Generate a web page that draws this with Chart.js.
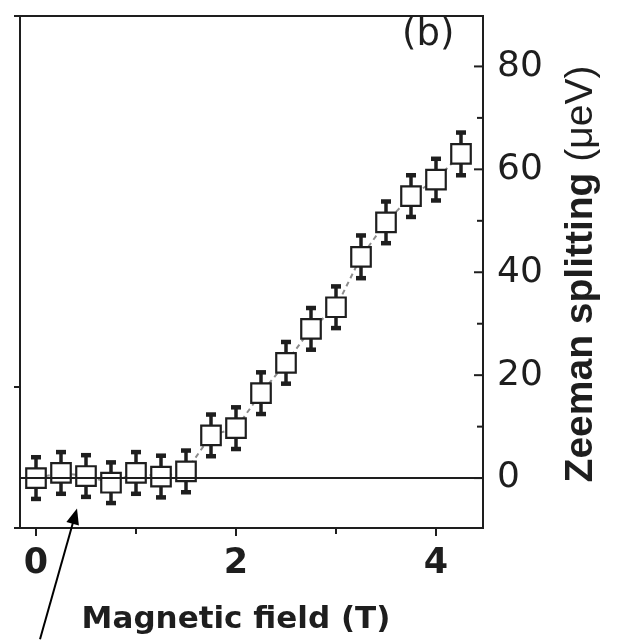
<!DOCTYPE html>
<html>
<head>
<meta charset="utf-8">
<script src="https://cdn.jsdelivr.net/npm/chart.js@4/dist/chart.umd.min.js"></script>
<style>
  html, body { margin: 0; padding: 0; background: #fff; }
  #wrap { width: 619px; height: 641px; }
</style>
</head>
<body>
<div id="wrap"><canvas id="c" width="619" height="641"></canvas></div>
<script>
// Magnetic field (T) at each measurement
const fieldT = [0, 0.25, 0.5, 0.75, 1.0, 1.25, 1.5, 1.75, 2.0, 2.25, 2.5, 2.75, 3.0, 3.25, 3.5, 3.75, 4.0, 4.25];
// Zeeman splitting (µeV)
const splitting = [0.0, 1.0, 0.4, -0.9, 1.0, 0.3, 1.3, 8.3, 9.7, 16.5, 22.4, 29.0, 33.2, 43.0, 49.7, 54.8, 58.0, 63.0];
// Error bar half-widths (µeV)
const splitErr = [4.1, 4.1, 4.1, 4.0, 4.1, 4.1, 4.1, 4.1, 4.1, 4.1, 4.1, 4.1, 4.1, 4.2, 4.1, 4.1, 4.1, 4.2];

// Axis ranges and tick values
const xRange = [-0.16, 4.47];
const yRange = [-9.7, 89.8];
const xMajorTicks = [0, 2, 4];
const xMinorTicks = [1, 3];
const yMajorTicks = [0, 20, 40, 60, 80];
const yMinorTicks = [10, 30, 50, 70];
const leftAxisTicks = [-9.7, 17.7, 89.8];
const zeroLevel = 0;

// Pointer arrow (field, splitting) from tail to tip
const arrowTail = [0.04, -31.3];
const arrowTip = [0.41, -5.9];

const panelLabel = '(b)';
const xTitle = 'Magnetic field (T)';
const yTitleBold = 'Zeeman splitting';
const yTitleUnit = ' (\u03bceV)';

const INK = '#1e1e1e';

const points = fieldT.map((x, i) => ({ x: x, y: splitting[i] }));

// Error bars, frame, axis ticks, zero line, titles and the pointer arrow
const framePlugin = {
  id: 'frame',
  beforeDatasetsDraw(chart) {
    const { ctx, scales } = chart;
    const ds = chart.getDatasetMeta(0);
    ctx.save();
    ctx.strokeStyle = INK;
    ctx.fillStyle = INK;
    ds.data.forEach((el, i) => {
      const px = el.x;
      const yHi = scales.y.getPixelForValue(splitting[i] + splitErr[i]);
      const yLo = scales.y.getPixelForValue(splitting[i] - splitErr[i]);
      ctx.lineWidth = 3.5;
      ctx.beginPath();
      ctx.moveTo(px, yHi);
      ctx.lineTo(px, yLo);
      ctx.stroke();
      ctx.fillRect(px - 5, yHi - 2, 10, 4.5);
      ctx.fillRect(px - 5, yLo - 2.5, 10, 4.5);
    });
    ctx.restore();
  },
  afterDatasetsDraw(chart) {
    const { ctx, chartArea: a, scales } = chart;
    ctx.save();
    ctx.strokeStyle = INK;
    ctx.lineWidth = 2;
    // zero line
    const y0 = scales.y.getPixelForValue(zeroLevel);
    ctx.beginPath();
    ctx.moveTo(a.left, y0);
    ctx.lineTo(a.right, y0);
    ctx.stroke();
    // frame
    ctx.beginPath();
    ctx.rect(a.left, a.top, a.right - a.left, a.bottom - a.top);
    ctx.stroke();
    // left axis ticks (outward)
    leftAxisTicks.forEach(v => {
      const py = scales.y.getPixelForValue(v);
      ctx.beginPath();
      ctx.moveTo(a.left - 6, py);
      ctx.lineTo(a.left, py);
      ctx.stroke();
    });
    // right axis ticks (inward)
    yMajorTicks.forEach(v => {
      const py = scales.y.getPixelForValue(v);
      ctx.beginPath();
      ctx.moveTo(a.right - 9, py);
      ctx.lineTo(a.right, py);
      ctx.stroke();
    });
    yMinorTicks.forEach(v => {
      const py = scales.y.getPixelForValue(v);
      ctx.beginPath();
      ctx.moveTo(a.right - 6, py);
      ctx.lineTo(a.right, py);
      ctx.stroke();
    });
    // bottom axis ticks (outward)
    xMajorTicks.forEach(v => {
      const px = scales.x.getPixelForValue(v);
      ctx.beginPath();
      ctx.moveTo(px, a.bottom);
      ctx.lineTo(px, a.bottom + 8);
      ctx.stroke();
    });
    xMinorTicks.forEach(v => {
      const px = scales.x.getPixelForValue(v);
      ctx.beginPath();
      ctx.moveTo(px, a.bottom);
      ctx.lineTo(px, a.bottom + 6);
      ctx.stroke();
    });
    ctx.restore();
  },
  afterDraw(chart) {
    const { ctx, chartArea: a, scales } = chart;
    ctx.save();
    ctx.fillStyle = INK;
    // panel label
    ctx.font = '37px "DejaVu Sans"';
    ctx.textAlign = 'left';
    ctx.textBaseline = 'alphabetic';
    ctx.fillText(panelLabel, 402, 45);

    // x axis title
    ctx.font = 'bold 31px "DejaVu Sans"';
    ctx.textAlign = 'center';
    ctx.fillText(xTitle, scales.x.getPixelForValue(2), 628);

    // y axis title (rotated, bold name + regular unit)
    ctx.translate(592, (a.top + a.bottom) / 2 + 2);
    ctx.rotate(-Math.PI / 2);
    ctx.textAlign = 'left';
    const fBold = 'bold 39px "Liberation Sans"';
    const fReg = '39px "Liberation Sans"';
    ctx.font = fBold;
    const wB = ctx.measureText(yTitleBold).width;
    ctx.font = fReg;
    const wR = ctx.measureText(yTitleUnit).width;
    const x0 = -(wB + wR) / 2;
    ctx.font = fBold;
    ctx.fillText(yTitleBold, x0, 0);
    ctx.font = fReg;
    ctx.fillText(yTitleUnit, x0 + wB, 0);
    ctx.restore();

    // arrow
    ctx.save();
    const tx = scales.x.getPixelForValue(arrowTail[0]);
    const ty = scales.y.getPixelForValue(arrowTail[1]);
    const hx = scales.x.getPixelForValue(arrowTip[0]);
    const hy = scales.y.getPixelForValue(arrowTip[1]);
    const ang = Math.atan2(hy - ty, hx - tx);
    const headLen = 16, headHalf = 6.5;
    ctx.strokeStyle = '#000';
    ctx.fillStyle = '#000';
    ctx.lineWidth = 2;
    ctx.beginPath();
    ctx.moveTo(tx, ty);
    ctx.lineTo(hx - Math.cos(ang) * headLen * 0.8, hy - Math.sin(ang) * headLen * 0.8);
    ctx.stroke();
    ctx.beginPath();
    ctx.moveTo(hx, hy);
    ctx.lineTo(hx - Math.cos(ang) * headLen + Math.sin(ang) * headHalf,
               hy - Math.sin(ang) * headLen - Math.cos(ang) * headHalf);
    ctx.lineTo(hx - Math.cos(ang) * headLen - Math.sin(ang) * headHalf,
               hy - Math.sin(ang) * headLen + Math.cos(ang) * headHalf);
    ctx.closePath();
    ctx.fill();
    ctx.restore();
  }
};

new Chart(document.getElementById('c'), {
  type: 'line',
  data: {
    datasets: [{
      data: points,
      showLine: true,
      borderColor: '#8c8c8c',
      borderWidth: 2,
      borderDash: [5, 4],
      tension: 0,
      pointStyle: 'rect',
      pointRadius: 13.8,
      pointBorderWidth: 2.2,
      pointBorderColor: INK,
      pointBackgroundColor: '#ffffff',
      clip: false
    }]
  },
  options: {
    responsive: false,
    animation: false,
    devicePixelRatio: 1,
    layout: { padding: { left: 20, top: 6, right: 0, bottom: 0 } },
    plugins: { legend: { display: false }, tooltip: { enabled: false } },
    events: [],
    scales: {
      x: {
        type: 'linear',
        position: 'bottom',
        min: xRange[0],
        max: xRange[1],
        grid: { display: false, drawTicks: false },
        border: { display: false },
        afterBuildTicks: s => { s.ticks = xMajorTicks.map(v => ({ value: v })); },
        afterFit: s => { s.height = 113; s.paddingLeft = 0; s.paddingRight = 0; },
        ticks: {
          padding: 15,
          color: INK,
          font: { family: 'DejaVu Sans', size: 35, weight: 'bold' },
          callback: v => String(v)
        }
      },
      y: {
        type: 'linear',
        position: 'right',
        min: yRange[0],
        max: yRange[1],
        grid: { display: false, drawTicks: false },
        border: { display: false },
        afterBuildTicks: s => { s.ticks = yMajorTicks.map(v => ({ value: v })); },
        afterFit: s => { s.width = 136; s.paddingTop = 0; s.paddingBottom = 0; },
        ticks: {
          padding: 14,
          color: INK,
          font: { family: 'DejaVu Sans', size: 36 },
          callback: v => String(v)
        }
      }
    }
  },
  plugins: [framePlugin]
});
</script>
</body>
</html>
